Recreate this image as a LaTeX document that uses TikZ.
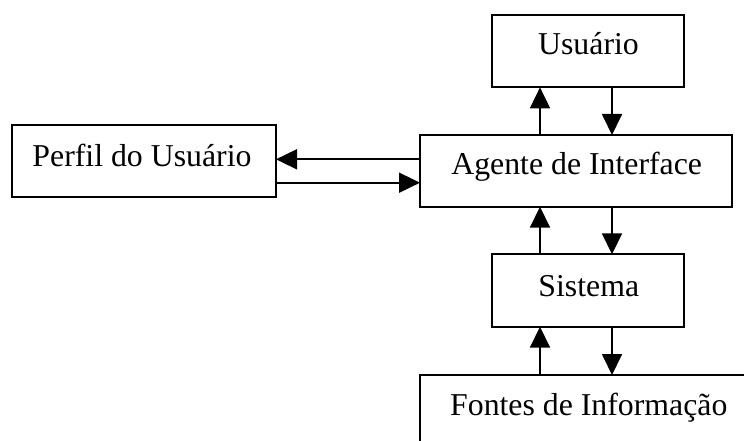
\documentclass[tikz,border=0pt]{standalone}
\usepackage{fontspec}
\setmainfont{Liberation Serif}
\usetikzlibrary{arrows.meta}
\begin{document}
\begin{tikzpicture}[x=1pt,y=-1pt,
  box/.style={draw, line width=1.8pt, inner sep=0pt, outer sep=0pt},
  lbl/.style={anchor=base, inner sep=0pt, font=\fontsize{31.8}{38}\selectfont},
  flow/.style={line width=1.8pt, -{Triangle[length=21pt,width=20pt]}}]
  \useasboundingbox (0,0) rectangle (744,441);
  \clip (0,0) rectangle (744,441);

  % boxes
  \node[box, minimum width=192.6pt, minimum height=72.3pt] (usr) at (588,51.2) {};
  \node[box, minimum width=311.7pt, minimum height=71.7pt] (agt) at (575.85,170.85) {};
  \node[box, minimum width=264.3pt, minimum height=72.3pt] (prf) at (143.85,161.15) {};
  \node[box, minimum width=192.6pt, minimum height=72.4pt] (sis) at (588,290.5) {};
  \node[box, minimum width=340pt, minimum height=90pt] (fnt) at (590,420) {};

  % labels
  \node[lbl] (usrT) at (588.5,55) {Usuário};
  \node[lbl] (agtT) at (576.7,175) {Agente de Interface};
  \node[lbl] (prfT) at (142,166) {Perfil do Usuário};
  \node[lbl] (sisT) at (588.8,296) {Sistema};
  \node[lbl] (fntT) at (588.8,415) {Fontes de Informação};

  % connector columns and rows
  \coordinate (upX) at (540,0);
  \coordinate (dnX) at (612,0);
  \coordinate (toPrf) at (0,159.3);
  \coordinate (toAgt) at (0,182.7);

  % vertical exchanges
  \draw[flow] (agt.north -| upX) -- (usr.south -| upX);
  \draw[flow] (usr.south -| dnX) -- (agt.north -| dnX);
  \draw[flow] (sis.north -| upX) -- (agt.south -| upX);
  \draw[flow] (agt.south -| dnX) -- (sis.north -| dnX);
  \draw[flow] (fnt.north -| upX) -- (sis.south -| upX);
  \draw[flow] (sis.south -| dnX) -- (fnt.north -| dnX);

  % profile exchange
  \draw[flow] (agt.west |- toPrf) -- (prf.east |- toPrf);
  \draw[flow] (prf.east |- toAgt) -- (agt.west |- toAgt);
\end{tikzpicture}
\end{document}
